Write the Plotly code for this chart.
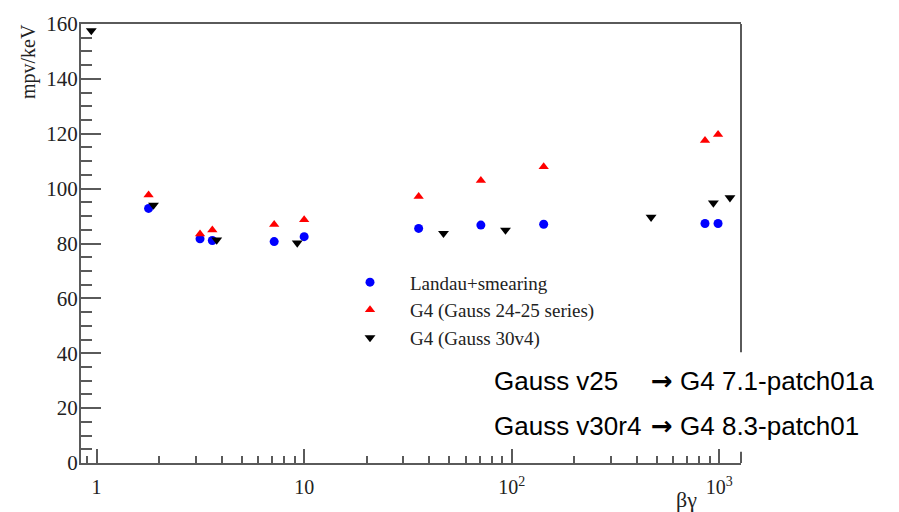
import plotly.graph_objects as go

# ---- data ----
landau_x = [1.78, 3.15, 3.61, 7.17, 10.0, 35.6, 71.0, 142.5, 853, 986]
landau_y = [92.8, 81.7, 81.1, 80.7, 82.5, 85.5, 86.7, 87.0, 87.3, 87.3]

g4old_x = [1.78, 3.15, 3.61, 7.17, 10.0, 35.6, 71.0, 142.5, 853, 986]
g4old_y = [97.7, 83.5, 84.9, 86.9, 88.7, 97.1, 103.0, 108.0, 117.5, 119.7]

g4new_x = [0.943, 1.88, 3.79, 9.26, 46.9, 93.3, 469, 936, 1125]
g4new_y = [157.6, 94.0, 81.3, 80.2, 83.7, 84.9, 89.6, 94.8, 96.7]

x_major = [1, 10, 100, 1000]
x_major_text = ["1", "10", "10<sup>2</sup>", "10<sup>3</sup>"]
x_minor = [m * d for d in [0.1, 1, 10, 100, 1000] for m in range(2, 10)]

axis_col = "#5a5a5a"
serif = "Liberation Serif, Times New Roman, serif"

fig = go.Figure()
fig.add_trace(go.Scatter(x=landau_x, y=landau_y, mode="markers", name="Landau+smearing",
                         legendgroup="a",
                         marker=dict(symbol="circle", size=9, color="#0000ff")))
fig.add_trace(go.Scatter(x=g4old_x, y=g4old_y, mode="markers", name="G4 (Gauss 24-25 series)",
                         legendgroup="b",
                         marker=dict(symbol="triangle-up", size=9, color="#ff0000")))
fig.add_trace(go.Scatter(x=g4new_x, y=g4new_y, mode="markers", name="G4 (Gauss 30v4)",
                         legendgroup="c",
                         marker=dict(symbol="triangle-down", size=9.5, color="#000000")))

fig.update_layout(
    width=899, height=512,
    margin=dict(l=81, r=158, t=14, b=48.5),
    paper_bgcolor="white", plot_bgcolor="white",
    font=dict(family=serif, size=20, color="#222222"),
    showlegend=True,
    legend=dict(x=(330 - 81) / 660, y=(463.5 - 259) / 449.5, xanchor="left", yanchor="top",
                bgcolor="rgba(0,0,0,0)", font=dict(family=serif, size=19, color="#222222"),
                itemwidth=70, tracegroupgap=0),
    xaxis=dict(type="log", range=[-0.0751, 3.1044], showgrid=False, zeroline=False,
               showline=True, linecolor=axis_col, linewidth=2, mirror=True,
               ticks="inside", ticklen=14, tickwidth=1.5, tickcolor=axis_col,
               tickmode="array", tickvals=x_major, ticktext=x_major_text,
               ticklabelstandoff=5,
               tickfont=dict(family=serif, size=20, color="#222222"),
               minor=dict(tickmode="array", tickvals=x_minor, ticks="inside", ticklen=7,
                          tickwidth=1.5, tickcolor=axis_col, showgrid=False)),
    yaxis=dict(range=[0, 160], showgrid=False, zeroline=False,
               showline=True, linecolor=axis_col, linewidth=2, mirror=False,
               ticks="inside", ticklen=20, tickwidth=1.5, tickcolor=axis_col,
               dtick=20, tick0=0, ticklabelstandoff=-3,
               tickfont=dict(family=serif, size=21, color="#222222"),
               minor=dict(dtick=5, ticks="inside", ticklen=11, tickwidth=1.5,
                          tickcolor=axis_col, showgrid=False)),
)

# right frame (interrupted by the text box)
fig.add_shape(type="line", xref="paper", yref="y", x0=1, x1=1, y0=40.4, y1=160,
              line=dict(color=axis_col, width=2))
fig.add_shape(type="line", xref="paper", yref="y", x0=1, x1=1, y0=0, y1=4.1,
              line=dict(color=axis_col, width=2))

# axis titles
fig.add_annotation(text="mpv/keV", xref="paper", yref="paper",
                   x=(28 - 81) / 660, y=(463.5 - 53) / 449.5, textangle=-90,
                   showarrow=False, xanchor="center", yanchor="middle",
                   font=dict(family=serif, size=20, color="#222222"))
fig.add_annotation(text="βγ", xref="paper", yref="paper",
                   x=(686 - 81) / 660, y=(463.5 - 501) / 449.5,
                   showarrow=False, xanchor="center", yanchor="middle",
                   font=dict(family=serif, size=22, color="#222222"))

# version notes
sans = "Liberation Sans, Arial, sans-serif"
arrow = "<span style='font-family:DejaVu Sans;font-weight:bold'>→</span>"
notes = [("Gauss v25", "G4 7.1-patch01a", 380), ("Gauss v30r4", "G4 8.3-patch01", 426)]
for left, right, ypx in notes:
    fig.add_annotation(text=left, xref="paper", yref="paper", x=(492 - 81) / 660,
                       y=(463.5 - ypx) / 449.5, showarrow=False, xanchor="left",
                       yanchor="middle", font=dict(family=sans, size=26, color="#000000"))
    fig.add_annotation(text=arrow + " " + right, xref="paper", yref="paper", x=(649 - 81) / 660,
                       y=(463.5 - ypx) / 449.5, showarrow=False, xanchor="left",
                       yanchor="middle", font=dict(family=sans, size=26, color="#000000"))

fig.write_html("out.html")
